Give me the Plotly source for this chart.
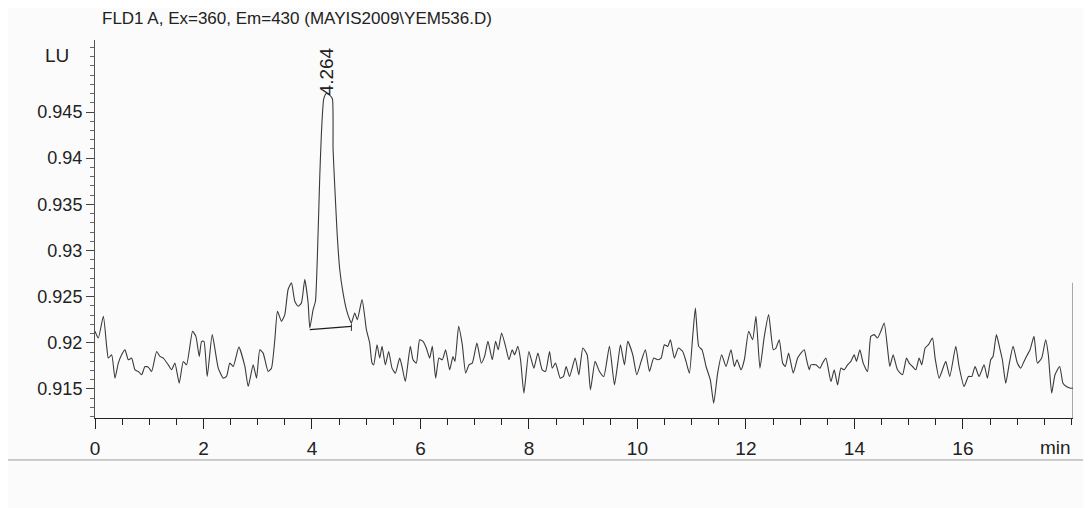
import plotly.graph_objects as go

# ---- data ----
time_min = [
    0.000, 0.061, 0.154, 0.215, 0.246, 0.307, 0.368, 0.430, 0.491, 0.553, 0.614, 0.675, 0.737, 0.798, 0.860,
    0.921, 0.982, 1.044, 1.136, 1.197, 1.259, 1.351, 1.412, 1.473, 1.553, 1.627, 1.688, 1.799, 1.860, 1.922,
    1.965, 2.008, 2.069, 2.161, 2.272, 2.364, 2.425, 2.486, 2.548, 2.652, 2.763, 2.824, 2.916, 2.978, 3.039,
    3.100, 3.192, 3.253, 3.315, 3.364, 3.438, 3.499, 3.560, 3.622, 3.683, 3.745, 3.806, 3.867, 3.929, 3.960,
    4.021, 4.064, 4.113, 4.144, 4.175, 4.217, 4.264, 4.330, 4.377, 4.389, 4.420, 4.463, 4.512, 4.573, 4.635,
    4.696, 4.727, 4.788, 4.837, 4.923, 4.972, 5.003, 5.064, 5.107, 5.138, 5.200, 5.249, 5.292, 5.353, 5.414,
    5.476, 5.537, 5.617, 5.660, 5.721, 5.813, 5.863, 5.924, 5.985, 6.047, 6.108, 6.170, 6.219, 6.280, 6.341,
    6.403, 6.464, 6.538, 6.599, 6.636, 6.704, 6.771, 6.833, 6.894, 6.955, 7.041, 7.121, 7.182, 7.244, 7.324,
    7.385, 7.434, 7.496, 7.569, 7.631, 7.692, 7.735, 7.796, 7.845, 7.907, 7.999, 8.091, 8.165, 8.245, 8.306,
    8.380, 8.429, 8.490, 8.576, 8.637, 8.686, 8.748, 8.852, 8.920, 8.994, 9.073, 9.134, 9.220, 9.300, 9.380,
    9.484, 9.576, 9.638, 9.687, 9.761, 9.822, 9.914, 9.988, 10.068, 10.147, 10.221, 10.301, 10.374, 10.436,
    10.497, 10.559, 10.608, 10.682, 10.755, 10.835, 10.896, 10.958, 11.019, 11.068, 11.130, 11.191, 11.265,
    11.344, 11.406, 11.479, 11.553, 11.633, 11.725, 11.787, 11.836, 11.909, 11.971, 12.051, 12.124, 12.185,
    12.259, 12.339, 12.419, 12.505, 12.554, 12.615, 12.677, 12.726, 12.787, 12.873, 12.953, 13.014, 13.076,
    13.118, 13.168, 13.198, 13.290, 13.364, 13.413, 13.475, 13.567, 13.628, 13.690, 13.751, 13.812, 13.874,
    13.935, 13.996, 14.039, 14.101, 14.162, 14.242, 14.303, 14.365, 14.426, 14.487, 14.549, 14.610, 14.653,
    14.714, 14.794, 14.886, 14.960, 15.009, 15.071, 15.132, 15.193, 15.242, 15.304, 15.365, 15.439, 15.488,
    15.562, 15.623, 15.684, 15.758, 15.869, 15.930, 16.022, 16.102, 16.163, 16.225, 16.298, 16.390, 16.452,
    16.513, 16.556, 16.618, 16.679, 16.728, 16.790, 16.851, 16.925, 17.004, 17.066, 17.127, 17.189, 17.238,
    17.311, 17.373, 17.453, 17.526, 17.575, 17.637, 17.698, 17.784, 17.845, 17.907, 17.987, 18.030,
]
signal_lu = [
    0.92124, 0.92051, 0.92287, 0.91961, 0.91834, 0.91870, 0.91617, 0.91780, 0.91870, 0.91924, 0.91816, 0.91834, 0.91707, 0.91689, 0.91653,
    0.91743, 0.91736, 0.91689, 0.91906, 0.91852, 0.91834, 0.91761, 0.91707, 0.91780, 0.91562, 0.91798, 0.91761, 0.92124, 0.92069, 0.91852,
    0.92015, 0.92015, 0.91635, 0.92088, 0.91725, 0.91617, 0.91635, 0.91780, 0.91743, 0.91953, 0.91743, 0.91526, 0.91761, 0.91617, 0.91924,
    0.91888, 0.91689, 0.91725, 0.92033, 0.92341, 0.92232, 0.92305, 0.92577, 0.92649, 0.92450, 0.92395, 0.92432, 0.92685, 0.92432, 0.92160,
    0.92359, 0.92450, 0.93192, 0.93808, 0.94279, 0.94641, 0.94700, 0.94680, 0.94641, 0.94098, 0.93699, 0.93192, 0.92794, 0.92540, 0.92359,
    0.92250, 0.92214, 0.92323, 0.92250, 0.92468, 0.92287, 0.92142, 0.91997, 0.91780, 0.91761, 0.91979, 0.91834, 0.91961, 0.91761, 0.91906,
    0.91725, 0.91671, 0.91834, 0.91743, 0.91580, 0.91961, 0.91816, 0.91780, 0.92033, 0.92015, 0.91943, 0.91834, 0.91961, 0.91617, 0.91834,
    0.91816, 0.91924, 0.91707, 0.91852, 0.91798, 0.92178, 0.91979, 0.91671, 0.91761, 0.91780, 0.91997, 0.91780, 0.91852, 0.92015, 0.91816,
    0.92015, 0.91924, 0.92106, 0.91961, 0.91816, 0.91924, 0.91870, 0.91961, 0.91816, 0.91454, 0.91906, 0.91725, 0.91888, 0.91707, 0.91689,
    0.91906, 0.91725, 0.91780, 0.91617, 0.91635, 0.91743, 0.91635, 0.91834, 0.91653, 0.91943, 0.91870, 0.91490, 0.91798, 0.91689, 0.91635,
    0.91961, 0.91544, 0.91780, 0.91979, 0.91761, 0.92015, 0.91870, 0.91653, 0.91798, 0.91924, 0.91689, 0.91834, 0.91816, 0.91834,
    0.91979, 0.91961, 0.92033, 0.91834, 0.91943, 0.91906, 0.91798, 0.91671, 0.92069, 0.92377, 0.91961, 0.91924, 0.91743,
    0.91598, 0.91345, 0.91671, 0.91870, 0.91743, 0.91924, 0.91743, 0.91816, 0.91707, 0.91816, 0.92124, 0.92033, 0.92287,
    0.91725, 0.92069, 0.92305, 0.91924, 0.91943, 0.92033, 0.91780, 0.91743, 0.91888, 0.91671, 0.91834, 0.91888, 0.91924,
    0.91816, 0.91707, 0.91761, 0.91761, 0.91725, 0.91780, 0.91834, 0.91580, 0.91707, 0.91544, 0.91725, 0.91707, 0.91761,
    0.91798, 0.91870, 0.91798, 0.91924, 0.91780, 0.91689, 0.92069, 0.92088, 0.92051, 0.92124, 0.92214, 0.91943, 0.91743,
    0.91870, 0.91707, 0.91653, 0.91834, 0.91780, 0.91743, 0.91707, 0.91834, 0.91761, 0.91943, 0.91979, 0.92051, 0.91834,
    0.91617, 0.91707, 0.91798, 0.91635, 0.91961, 0.91743, 0.91526, 0.91635, 0.91635, 0.91743, 0.91635, 0.91761, 0.91617,
    0.91816, 0.91852, 0.92088, 0.91943, 0.91816, 0.91562, 0.91761, 0.91961, 0.91780, 0.91725, 0.91798, 0.91870, 0.91924,
    0.92069, 0.91780, 0.91834, 0.92033, 0.91870, 0.91454, 0.91653, 0.91743, 0.91562, 0.91526, 0.91508, 0.91508,
]
baseline_time = [3.960, 4.727]
baseline_lu = [0.92142, 0.92178]
peak_rt = 4.264
peak_label = "4.264"
y_tick_vals = [0.915, 0.92, 0.925, 0.93, 0.935, 0.94, 0.945]
y_tick_text = ["0.915", "0.92", "0.925", "0.93", "0.935", "0.94", "0.945"]
x_tick_vals = [0, 2, 4, 6, 8, 10, 12, 14, 16]
x_tick_text = ["0", "2", "4", "6", "8", "10", "12", "14", "16"]
title_text = "FLD1 A, Ex=360, Em=430 (MAYIS2009\\YEM536.D)"

X_RANGE = [0, 18.03]
Y_RANGE = [0.91185, 0.9528]

FONT = "Liberation Sans Narrow, Arial Narrow, Liberation Sans, Arial, sans-serif"
INK = "#222222"

fig = go.Figure()
fig.add_trace(go.Scatter(
    x=time_min, y=signal_lu, mode="lines",
    line=dict(color="#3a3a3a", width=1.1, shape="spline", smoothing=0.5),
    hoverinfo="x+y", showlegend=False,
))
fig.add_trace(go.Scatter(
    x=baseline_time, y=baseline_lu, mode="lines",
    line=dict(color="#1e1e1e", width=1.3), showlegend=False,
))

# page body has an 8px margin, so the figure is sized/margined to compensate
fig.update_layout(
    width=1083, height=500,
    margin=dict(l=87, r=18, t=32, b=90),
    paper_bgcolor="#fbfbfb", plot_bgcolor="#fbfbfb",
    font=dict(family=FONT, size=18, color=INK),
    showlegend=False,
)
fig.update_xaxes(
    range=X_RANGE, showgrid=False, zeroline=False,
    showline=True, linecolor=INK, linewidth=1.4,
    tickmode="array", tickvals=x_tick_vals, ticktext=x_tick_text,
    ticks="outside", ticklen=10, tickwidth=1, tickcolor=INK,
    ticklabelstandoff=3,
    minor=dict(dtick=0.5, tick0=0, ticks="outside", ticklen=6, tickwidth=1, tickcolor=INK),
    tickfont=dict(family=FONT, size=19, color=INK),
)
fig.update_yaxes(
    range=Y_RANGE, showgrid=False, zeroline=False,
    showline=True, linecolor="#555555", linewidth=1,
    tickmode="array", tickvals=y_tick_vals, ticktext=y_tick_text,
    ticks="outside", ticklen=8, tickwidth=1, tickcolor="#444444",
    minor=dict(dtick=0.001, tick0=0.91, ticks="outside", ticklen=4, tickwidth=1, tickcolor="#666666"),
    tickfont=dict(family=FONT, size=18, color=INK),
)

# right edge marker line
fig.add_shape(type="line", xref="x", yref="y", x0=X_RANGE[1], x1=X_RANGE[1],
              y0=Y_RANGE[0], y1=0.9265, line=dict(color="#555555", width=1))
# baseline end tick
fig.add_shape(type="line", xref="x", yref="y", x0=baseline_time[1], x1=baseline_time[1],
              y0=baseline_lu[1] - 0.0005, y1=baseline_lu[1] + 0.0003, line=dict(color="#333333", width=1))
# scan frame lines
fig.add_shape(type="line", xref="paper", yref="paper", x0=0.179, x1=1.02, y0=1.103, y1=1.103,
              line=dict(color="#333333", width=2))
fig.add_shape(type="line", xref="paper", yref="paper", x0=-0.1, x1=1.02, y0=-0.111, y1=-0.111,
              line=dict(color="#9a9a9a", width=1))

fig.add_annotation(text=title_text, xref="paper", yref="paper", x=0.005, y=1.0556,
                   xanchor="left", yanchor="middle", showarrow=False,
                   font=dict(family=FONT, size=17, color=INK))
fig.add_annotation(text="LU", xref="paper", yref="paper", x=-0.039, y=0.960,
                   xanchor="center", yanchor="middle", showarrow=False,
                   font=dict(family=FONT, size=19, color=INK))
fig.add_annotation(text="min", xref="x", yref="paper", x=X_RANGE[1], y=-0.079,
                   xanchor="right", yanchor="middle", showarrow=False,
                   font=dict(family=FONT, size=19, color=INK))
fig.add_annotation(text=peak_label, xref="x", yref="paper", x=peak_rt + 0.02, y=0.918,
                   xanchor="center", yanchor="middle", textangle=-90, showarrow=False,
                   font=dict(family=FONT, size=19, color=INK))

fig.write_html("out.html")
